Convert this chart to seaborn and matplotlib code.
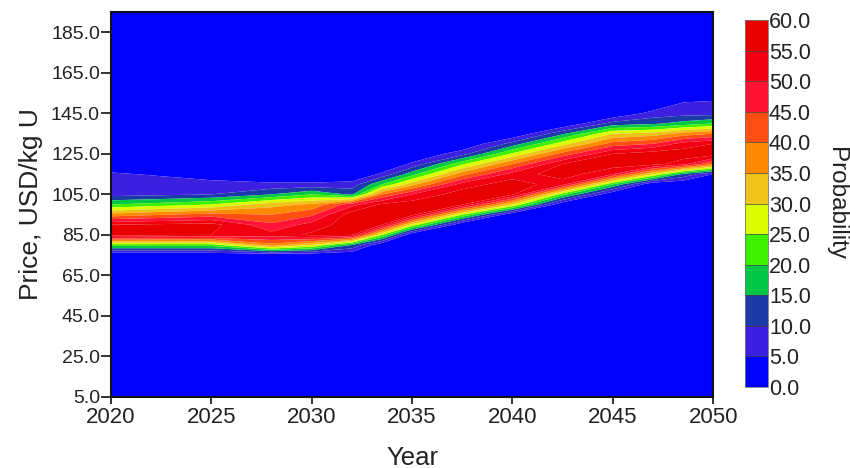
import numpy as np
import matplotlib
matplotlib.use("Agg")
import matplotlib.pyplot as plt
import seaborn as sns

# ---- data ----
years = [2020, 2025, 2028, 2030, 2032, 2033.5, 2035, 2037.5, 2040, 2042.5, 2045, 2047, 2048.5, 2050]
prices = [5, 70, 75, 80, 85, 90, 95, 100, 105, 110, 115, 120, 125, 130, 135, 140, 145, 150, 155, 195]
# probability (%) at each price (rows) and year (columns)
prob = [
    [0, 0, 0, 0, 0, 0, 0, 0, 0, 0, 0, 0, 0, 0],           # 5
    [0, 0, 0, 0, 0, 0, 0, 0, 0, 0, 0, 0, 0, 0],           # 70
    [0, 0, 0, 0, 0, 0, 0, 0, 0, 0, 0, 0, 0, 0],           # 75
    [22, 22, 38, 30, 15, 0, 0, 0, 0, 0, 0, 0, 0, 0],      # 80
    [57, 55, 52, 56, 55, 25, 0, 0, 0, 0, 0, 0, 0, 0],     # 85
    [55, 57, 46, 52, 58, 55, 28, 0, 0, 0, 0, 0, 0, 0],    # 90
    [37, 42, 40, 44, 58, 58, 57, 25, 0, 0, 0, 0, 0, 0],   # 95
    [20, 25, 33, 36, 48, 56, 58, 55, 30, 0, 0, 0, 0, 0],  # 100
    [8, 10, 15, 20, 14, 40, 50, 58, 56, 22, 0, 0, 0, 0],  # 105
    [7, 7, 6, 6, 7, 20, 33, 52, 58, 52, 20, 0, 0, 0],     # 110
    [6, 2, 0, 0, 0, 6, 18, 38, 52, 58, 50, 30, 14, 5],    # 115
    [0, 0, 0, 0, 0, 0, 6, 24, 40, 55, 58, 57, 52, 40],    # 120
    [0, 0, 0, 0, 0, 0, 0, 8, 26, 42, 55, 58, 58, 58],     # 125
    [0, 0, 0, 0, 0, 0, 0, 0, 12, 28, 42, 45, 52, 55],     # 130
    [0, 0, 0, 0, 0, 0, 0, 0, 0, 14, 30, 32, 37, 40],      # 135
    [0, 0, 0, 0, 0, 0, 0, 0, 0, 0, 12, 14, 17, 20],       # 140
    [0, 0, 0, 0, 0, 0, 0, 0, 0, 0, 0, 7, 8, 8],           # 145
    [0, 0, 0, 0, 0, 0, 0, 0, 0, 0, 0, 0, 5.5, 6.5],       # 150
    [0, 0, 0, 0, 0, 0, 0, 0, 0, 0, 0, 0, 0, 0],           # 155
    [0, 0, 0, 0, 0, 0, 0, 0, 0, 0, 0, 0, 0, 0],           # 195
]
levels = [0, 5, 10, 15, 20, 25, 30, 35, 40, 45, 50, 55, 60]
level_colors = ['#0000ff', '#3d1fe0', '#1c3aa8', '#00c846', '#3ff000', '#dcff00',
                '#eec41a', '#ff8a00', '#ff4e12', '#ff1436', '#f00010', '#e80000']
x_ticks = [2020, 2025, 2030, 2035, 2040, 2045, 2050]
y_ticks = [5, 25, 45, 65, 85, 105, 125, 145, 165, 185]

# ---- style ----
sns.set_style("ticks")
plt.rcParams['font.family'] = ['Liberation Sans', 'DejaVu Sans']
txt = '#222222'

fig = plt.figure(figsize=(8.5, 4.68), dpi=100)
ax = fig.add_axes([0.1306, 0.152, 0.7084, 0.822])

X, Y = np.meshgrid(np.array(years, dtype=float), np.array(prices, dtype=float))
Z = np.array(prob, dtype=float)
cf = ax.contourf(X, Y, Z, levels=levels, colors=level_colors, antialiased=True)

ax.set_xlim(2020, 2050)
ax.set_ylim(5, 195)
ax.set_xticks(x_ticks)
ax.set_xticklabels([str(v) for v in x_ticks], fontsize=16, color=txt)
ax.set_yticks(y_ticks)
ax.set_yticklabels([f"{v:.1f}" for v in y_ticks], fontsize=14, color=txt)
ax.tick_params(axis='y', direction='out', length=7, width=1.2, color='#111111', pad=1)
ax.tick_params(axis='x', direction='out', length=5, width=1.2, color='#111111', pad=2)
for sp in ax.spines.values():
    sp.set_linewidth(1.5)
    sp.set_color('#111111')
ax.set_xlabel("Year", fontsize=18.5, color=txt, labelpad=13)
ax.set_ylabel("Price, USD/kg U", fontsize=19, color=txt, labelpad=6)

cax = fig.add_axes([0.876, 0.173, 0.027, 0.784])
cb = fig.colorbar(cf, cax=cax, ticks=levels, drawedges=True)
cb.outline.set_linewidth(0.6)
cb.outline.set_edgecolor('#777777')
cb.dividers.set_color('#444444')
cb.dividers.set_linewidth(0.5)
cb.ax.set_yticklabels([f"{v:.1f}" for v in levels], fontsize=15.5, color=txt)
cb.ax.tick_params(length=0, pad=1)
cb.set_label("Probability", rotation=-90, fontsize=17.5, color=txt, labelpad=26)

fig.savefig("out.png", dpi=100)
